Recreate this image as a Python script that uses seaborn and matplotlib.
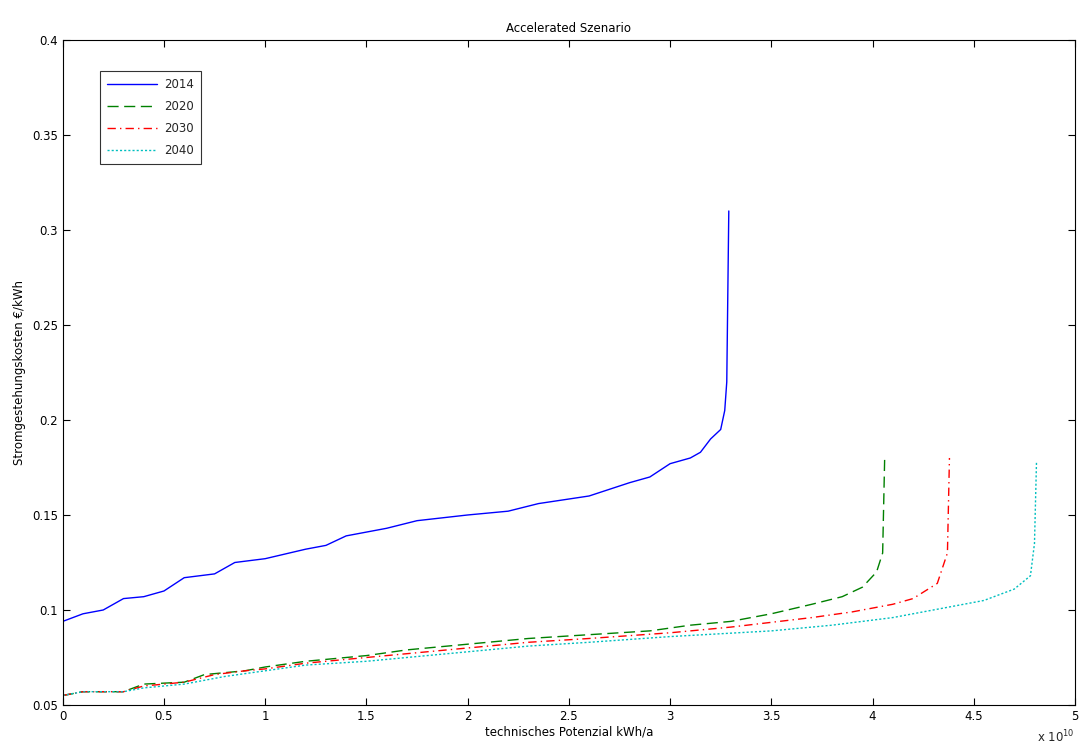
import numpy as np
import pandas as pd
import seaborn as sns
import matplotlib
matplotlib.use("Agg")
import matplotlib.pyplot as plt

# Potenzial in 1e10 kWh/a, Kosten in EUR/kWh
x_2014 = [0, 0.1, 0.2, 0.3, 0.4, 0.5, 0.6, 0.75, 0.85, 1.0, 1.2, 1.3, 1.4, 1.6, 1.75, 2.0, 2.2, 2.35,
          2.6, 2.8, 2.9, 3.0, 3.1, 3.15, 3.2, 3.25, 3.27, 3.28, 3.29]
y_2014 = [0.094, 0.098, 0.100, 0.106, 0.107, 0.110, 0.117, 0.119, 0.125, 0.127, 0.132, 0.134, 0.139,
          0.143, 0.147, 0.150, 0.152, 0.156, 0.160, 0.167, 0.170, 0.177, 0.180, 0.183, 0.190, 0.195,
          0.205, 0.220, 0.310]
x_2020 = [0, 0.1, 0.3, 0.4, 0.6, 0.7, 0.9, 1.0, 1.2, 1.5, 1.7, 2.0, 2.3, 2.6, 2.9, 3.1, 3.3, 3.5,
          3.7, 3.85, 3.95, 4.02, 4.05, 4.06]
y_2020 = [0.055, 0.057, 0.057, 0.061, 0.062, 0.066, 0.068, 0.070, 0.073, 0.076, 0.079, 0.082, 0.085,
          0.087, 0.089, 0.092, 0.094, 0.098, 0.103, 0.107, 0.112, 0.120, 0.130, 0.180]
x_2030 = [0, 0.1, 0.3, 0.4, 0.6, 0.75, 0.9, 1.0, 1.2, 1.5, 1.7, 2.0, 2.3, 2.6, 3.0, 3.3, 3.7, 3.9,
          4.1, 4.2, 4.32, 4.37, 4.38]
y_2030 = [0.055, 0.057, 0.057, 0.060, 0.062, 0.066, 0.068, 0.069, 0.072, 0.075, 0.077, 0.080, 0.083,
          0.085, 0.088, 0.091, 0.096, 0.099, 0.103, 0.106, 0.114, 0.130, 0.180]
x_2040 = [0, 0.1, 0.3, 0.4, 0.6, 0.8, 1.0, 1.2, 1.5, 1.7, 2.0, 2.3, 2.6, 3.0, 3.5, 3.8, 4.1, 4.4,
          4.55, 4.7, 4.78, 4.80, 4.81]
y_2040 = [0.055, 0.057, 0.057, 0.059, 0.061, 0.065, 0.068, 0.071, 0.073, 0.075, 0.078, 0.081, 0.083,
          0.086, 0.089, 0.092, 0.096, 0.102, 0.105, 0.111, 0.118, 0.135, 0.178]

series = [("2014", x_2014, y_2014, "#0000ff", "-"),
          ("2020", x_2020, y_2020, "#008000", (0, (8, 4))),
          ("2030", x_2030, y_2030, "#ff0000", (0, (6, 3, 1, 3))),
          ("2040", x_2040, y_2040, "#00bfbf", (0, (1.5, 1.5)))]

sns.set_style("ticks")
plt.rcParams['font.family'] = ['DejaVu Sans']
fig = plt.figure(figsize=(10.82, 7.54), dpi=100)
ax = fig.add_axes([0.058, 0.065, 0.9355, 0.882])

for name, xs, ys, col, ls in series:
    df = pd.DataFrame({"x": xs, "y": ys})
    sns.lineplot(data=df, x="x", y="y", ax=ax, color=col, linestyle=ls, linewidth=1,
                 label=name, sort=False, estimator=None)

ax.set_xlim(0, 5)
ax.set_ylim(0.05, 0.4)
ax.set_xticks(np.arange(0, 5.01, 0.5))
ax.set_xticklabels(["0", "0.5", "1", "1.5", "2", "2.5", "3", "3.5", "4", "4.5", "5"])
ax.set_yticks(np.arange(0.05, 0.401, 0.05))
ax.set_yticklabels(["0.05", "0.1", "0.15", "0.2", "0.25", "0.3", "0.35", "0.4"])
ax.tick_params(direction="in", labelsize=8.5, top=True, right=True, length=5, colors="black")
for s in ax.spines.values():
    s.set_visible(True)
    s.set_linewidth(0.8)
    s.set_color("black")
ax.set_xlabel("technisches Potenzial kWh/a", fontsize=8.5, labelpad=2, color="black")
ax.set_ylabel("Stromgestehungskosten €/kWh", fontsize=8.5, labelpad=4, color="black")
ax.set_title("Accelerated Szenario", fontsize=8.5, pad=6, color="black")
ax.text(1.0, -0.035, r"x 10$^{10}$", transform=ax.transAxes, ha="right", va="top", fontsize=8.5)
leg = ax.legend(loc="upper left", bbox_to_anchor=(0.037, 0.953), fontsize=8.5, frameon=True,
                fancybox=False, edgecolor="black", handlelength=4.2, handletextpad=0.6,
                borderpad=0.6, labelspacing=0.75, borderaxespad=0)
leg.get_frame().set_linewidth(0.8)

fig.savefig("out.png", dpi=100)
